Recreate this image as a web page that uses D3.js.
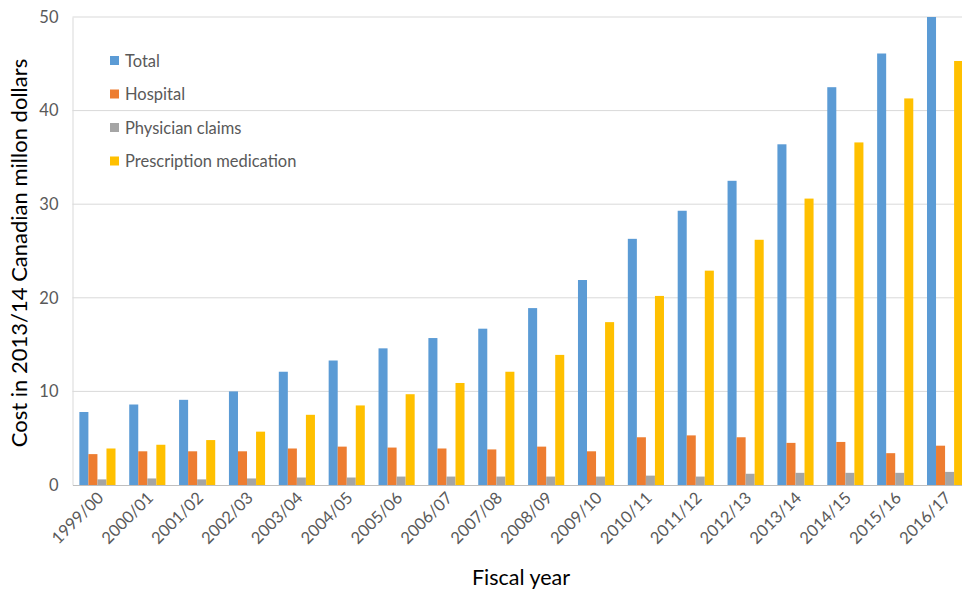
<!DOCTYPE html>
<html>
<head>
<meta charset="utf-8">
<script src="https://cdn.jsdelivr.net/npm/d3@7"></script>
<style>
  html, body { margin: 0; padding: 0; background: #fff; }
  svg { display: block; font-family: Lato, "Open Sans", sans-serif; }
</style>
</head>
<body>
<svg id="chart" width="962" height="589"></svg>
<script>
// Fiscal years on the x axis
const years = ["1999/00","2000/01","2001/02","2002/03","2003/04","2004/05","2005/06","2006/07","2007/08",
  "2008/09","2009/10","2010/11","2011/12","2012/13","2013/14","2014/15","2015/16","2016/17"];

// Cost series (2013/14 Canadian million dollars)
const total        = [7.8, 8.6, 9.1, 10.0, 12.1, 13.3, 14.6, 15.7, 16.7, 18.9, 21.9, 26.3, 29.3, 32.5, 36.4, 42.5, 46.1, 50.0];
const hospital     = [3.3, 3.6, 3.6, 3.6, 3.9, 4.1, 4.0, 3.9, 3.8, 4.1, 3.6, 5.1, 5.3, 5.1, 4.5, 4.6, 3.4, 4.2];
const physician    = [0.6, 0.7, 0.6, 0.7, 0.8, 0.8, 0.9, 0.9, 0.9, 0.9, 0.9, 1.0, 0.9, 1.2, 1.3, 1.3, 1.3, 1.4];
const prescription = [3.9, 4.3, 4.8, 5.7, 7.5, 8.5, 9.7, 10.9, 12.1, 13.9, 17.4, 20.2, 22.9, 26.2, 30.6, 36.6, 41.3, 45.3];

const seriesNames = ["Total", "Hospital", "Physician claims", "Prescription medication"];
const seriesValues = [total, hospital, physician, prescription];
const seriesColors = ["#5b9bd5", "#ed7d31", "#a5a5a5", "#ffc000"];
const yTicks = [0, 10, 20, 30, 40, 50];

const svg = d3.select("#chart");
const plot = { left: 72.5, right: 970, top: 17, bottom: 485 };

const x = d3.scaleBand().domain(years).range([plot.left, plot.right]).paddingInner(0).paddingOuter(0);
const groupPad = 0.275;
const x1 = d3.scaleBand().domain(seriesNames)
  .range([x.bandwidth() * groupPad / 2, x.bandwidth() * (1 - groupPad / 2)]);
const y = d3.scaleLinear().domain([0, 50]).range([plot.bottom, plot.top]);

// Horizontal gridlines
svg.append("g").selectAll("line").data(yTicks.filter(d => d > 0)).join("line")
  .attr("x1", plot.left).attr("x2", 962)
  .attr("y1", d => y(d)).attr("y2", d => y(d))
  .attr("stroke", "#d9d9d9").attr("stroke-width", 1);

// Y axis tick labels
const yAxis = d3.axisLeft(y).tickValues(yTicks).tickSize(0).tickPadding(14).tickFormat(d3.format("d"));
const gy = svg.append("g").attr("transform", `translate(${plot.left},0)`).call(yAxis);
gy.select(".domain").attr("stroke", "#d9d9d9");
gy.selectAll("text").attr("fill", "#595959").style("font-size", "16.5px")
  .style("font-family", "Lato, 'Open Sans', sans-serif");

// Bars
const rows = years.map((yr, i) => ({ yr, vals: seriesValues.map((s, k) => ({ key: seriesNames[k], v: s[i], c: seriesColors[k] })) }));
svg.append("g").selectAll("g").data(rows).join("g")
  .attr("transform", d => `translate(${x(d.yr)},0)`)
  .selectAll("rect").data(d => d.vals).join("rect")
  .attr("x", d => x1(d.key))
  .attr("width", x1.bandwidth())
  .attr("y", d => y(d.v))
  .attr("height", d => y(0) - y(d.v))
  .attr("fill", d => d.c);

// X axis baseline and rotated labels
const xAxis = d3.axisBottom(x).tickSize(0).tickPadding(0);
const gx = svg.append("g").attr("transform", `translate(0,${plot.bottom})`).call(xAxis);
gx.select(".domain").attr("stroke", "#bfbfbf").attr("stroke-width", 1.2);
gx.selectAll("text")
  .attr("fill", "#595959").style("font-size", "16.5px")
  .style("font-family", "Lato, 'Open Sans', sans-serif")
  .attr("text-anchor", "end")
  .attr("dy", null)
  .attr("transform", "translate(7,14) rotate(-45)");

// Axis titles
svg.append("text")
  .attr("transform", `translate(27,253) rotate(-90)`)
  .attr("text-anchor", "middle")
  .style("font-size", "22px").attr("fill", "#000")
  .text("Cost in 2013/14 Canadian millon dollars");

svg.append("text")
  .attr("x", 521).attr("y", 585)
  .attr("text-anchor", "middle")
  .style("font-size", "21.5px").attr("fill", "#000")
  .text("Fiscal year");

// Legend
const legend = svg.append("g").attr("transform", "translate(110,61)");
const li = legend.selectAll("g").data(seriesNames).join("g")
  .attr("transform", (d, i) => `translate(0,${i * 33.5})`);
li.append("rect").attr("x", 0).attr("y", -5).attr("width", 9).attr("height", 9)
  .attr("fill", (d, i) => seriesColors[i]);
li.append("text").attr("x", 15).attr("y", 0).attr("dy", "0.35em")
  .style("font-size", "16.5px").attr("fill", "#595959").text(d => d);
</script>
</body>
</html>
